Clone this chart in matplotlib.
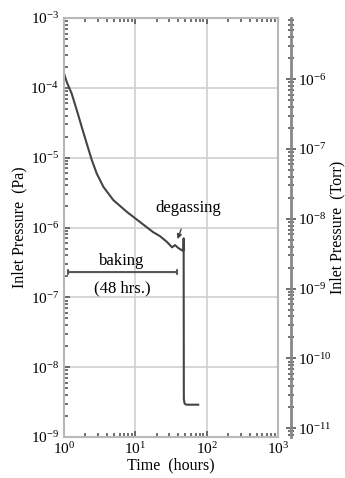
import numpy as np
import matplotlib.pyplot as plt

plt.rcParams['font.family'] = ['Liberation Serif', 'DejaVu Serif']
plt.rcParams['mathtext.fontset'] = 'stix'

# pressure trace
time_h = [1.0, 1.09, 1.28, 1.51, 1.77, 2.08, 2.45, 2.87, 3.56, 4.91, 7.57, 11.6,
          17.7, 22.2, 27.8, 32.7, 36.0, 39.8, 45.2, 47.3, 47.5, 47.8, 49.0, 52.0, 76.0]
press_pa = [1.62e-4, 1.22e-4, 8.3e-5, 4.8e-5, 2.77e-5, 1.6e-5, 9.3e-6, 5.96e-6, 3.83e-6,
            2.47e-6, 1.68e-6, 1.2e-6, 8.6e-7, 7.5e-7, 6.2e-7, 5.2e-7, 5.6e-7, 5.1e-7,
            4.7e-7, 4.7e-7, 7.0e-7, 3.5e-9, 3.0e-9, 2.9e-9, 2.9e-9]

PA_PER_TORR = 133.322

fig = plt.figure(figsize=(3.45, 4.78), dpi=100)
ax = fig.add_axes([0.1855, 0.0858, 0.6205, 0.8765])

ax.plot(time_h, press_pa, color='#444444', lw=1.5)
ax.set_xscale('log')
ax.set_yscale('log')
ax.set_xlim(1, 1e3)
ax.set_ylim(1e-9, 1e-3)
ax.grid(True, which='major', color='#cfcfcf', lw=1.2)
for s in ax.spines.values():
    s.set_color('#b8b8b8')
    s.set_linewidth(1.5)
ax.tick_params(which='both', direction='in', top=True, right=True, colors='#555555',
               labelcolor='black', labelsize=11)
ax.tick_params(which='major', length=4, width=1.2)
ax.tick_params(which='minor', length=3, width=1.2)
ax.tick_params(axis='x', pad=3)
ax.set_xlabel('Time  (hours)', fontsize=11.5, labelpad=0)
ax.set_ylabel('Inlet Pressure  (Pa)', fontsize=11.5, labelpad=2)

# Torr axis on the right, set a bit apart
ax2 = ax.twinx()
ax2.set_yscale('log')
ax2.set_ylim(1e-9 / PA_PER_TORR, 1e-3 / PA_PER_TORR)
for k in ['top', 'bottom', 'left']:
    ax2.spines[k].set_visible(False)
ax2.spines['right'].set_position(('outward', 9))
ax2.spines['right'].set_color('#888888')
ax2.spines['right'].set_linewidth(2)
ax2.tick_params(which='both', direction='inout', colors='#555555', labelcolor='black',
                labelsize=11, pad=2)
ax2.tick_params(which='major', length=7, width=1.2)
ax2.tick_params(which='minor', length=5, width=1.2)
ax2.set_ylabel('Inlet Pressure  (Torr)', fontsize=11.5, labelpad=-2)

# baking span
ax.annotate('', xy=(1.05, 2.3e-7), xytext=(42, 2.3e-7),
            arrowprops=dict(arrowstyle='|-|,widthA=0.15,widthB=0.15', color='#555555', lw=1.5))
ax.text(6.5, 3.3e-7, 'baking', ha='center', va='center', fontsize=12)
ax.text(6.5, 1.35e-7, '(48 hrs.)', ha='center', va='center', fontsize=12)

ax.annotate('degassing', xy=(39, 6.8e-7), xytext=(56, 1.9e-6), ha='center', va='center',
            fontsize=12, arrowprops=dict(arrowstyle='-|>', color='#444444', lw=1,
                                         mutation_scale=7, shrinkA=8, shrinkB=0))

fig.savefig('out.png', dpi=100)
